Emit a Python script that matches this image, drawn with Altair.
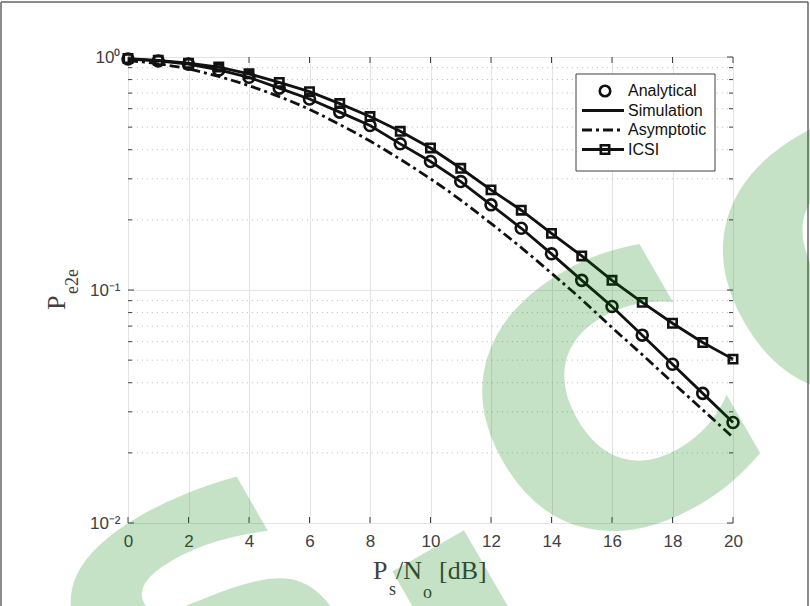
import altair as alt
import pandas as pd

# ---------------- data ----------------
snr_db = list(range(21))
analytical = [0.98, 0.962, 0.932, 0.880, 0.818, 0.735, 0.660, 0.580, 0.508, 0.424, 0.356,
              0.292, 0.232, 0.184, 0.143, 0.110, 0.085, 0.064, 0.048, 0.036, 0.027]
simulation = [0.98, 0.962, 0.932, 0.880, 0.818, 0.735, 0.660, 0.580, 0.508, 0.424, 0.356,
              0.292, 0.232, 0.184, 0.143, 0.110, 0.085, 0.064, 0.048, 0.036, 0.027]
asymptotic = [0.965, 0.935, 0.888, 0.825, 0.753, 0.676, 0.596, 0.513, 0.436, 0.364, 0.300,
              0.243, 0.193, 0.152, 0.118, 0.091, 0.069, 0.0528, 0.0401, 0.0306, 0.0233]
icsi = [0.985, 0.968, 0.940, 0.905, 0.847, 0.778, 0.710, 0.631, 0.555, 0.480, 0.407,
        0.333, 0.269, 0.220, 0.175, 0.140, 0.110, 0.0885, 0.072, 0.0595, 0.0505]

x_ticks = [0, 2, 4, 6, 8, 10, 12, 14, 16, 18, 20]
y_major = [0.01, 0.1, 1.0]
y_minor = [0.02, 0.03, 0.04, 0.05, 0.06, 0.07, 0.08, 0.09,
           0.2, 0.3, 0.4, 0.5, 0.6, 0.7, 0.8, 0.9]
legend_labels = ["Analytical", "Simulation", "Asymptotic", "ICSI"]
watermark = "s.com"

W, H = 605, 466
AX = "#404040"
LINE = "#111111"

x_enc = alt.X("x:Q",
              scale=alt.Scale(domain=[0, 20], nice=False, zero=False),
              axis=alt.Axis(values=x_ticks, grid=True, gridColor="#e4e4e4", gridWidth=1,
                            domain=False, ticks=False, labelPadding=10,
                            labelFont="Liberation Sans", labelFontSize=17,
                            labelColor=AX, title=None, labelFlush=False))
y_enc = alt.Y("y:Q",
              scale=alt.Scale(type="log", domain=[0.01, 1], nice=False),
              axis=alt.Axis(values=y_major, grid=True, gridColor="#e4e4e4", gridWidth=1,
                            domain=False, ticks=False, labelPadding=8,
                            labelFont="Liberation Sans", labelFontSize=17,
                            labelColor=AX, title=None,
                            labelExpr="datum.value >= 0.5 ? '10\u2070' : (datum.value >= 0.05 ? '10\u207b\u00b9' : '10\u207b\u00b2')"))

df = lambda xs, ys: pd.DataFrame({"x": xs, "y": ys})

minor_grid = alt.Chart(pd.DataFrame({"y": y_minor})).mark_rule(
    color="#c4c4c4", strokeDash=[1.2, 3.8], strokeWidth=1).encode(y=y_enc)

# inward ticks
y_all = pd.DataFrame({"y": y_major})
y_min = pd.DataFrame({"y": y_minor})
x_tk = pd.DataFrame({"x": x_ticks})
tick_style = dict(color=AX, strokeWidth=1)
ticks = [
    alt.Chart(y_all).mark_rule(**tick_style).encode(y=y_enc, x=alt.value(0), x2=alt.value(6)),
    alt.Chart(y_all).mark_rule(**tick_style).encode(y=y_enc, x=alt.value(W - 6), x2=alt.value(W)),
    alt.Chart(y_min).mark_rule(**tick_style).encode(y=y_enc, x=alt.value(0), x2=alt.value(4)),
    alt.Chart(y_min).mark_rule(**tick_style).encode(y=y_enc, x=alt.value(W - 4), x2=alt.value(W)),
    alt.Chart(x_tk).mark_rule(**tick_style).encode(x=x_enc, y=alt.value(0), y2=alt.value(6)),
    alt.Chart(x_tk).mark_rule(**tick_style).encode(x=x_enc, y=alt.value(H - 6), y2=alt.value(H)),
]

asym_line = alt.Chart(df(snr_db, asymptotic)).mark_line(
    color=LINE, strokeWidth=2.8, strokeDash=[10, 4, 3, 4], interpolate="monotone"
).encode(x=x_enc, y=y_enc)
sim_line = alt.Chart(df(snr_db, simulation)).mark_line(
    color=LINE, strokeWidth=2.8).encode(x=x_enc, y=y_enc)
icsi_line = alt.Chart(df(snr_db, icsi)).mark_line(
    color=LINE, strokeWidth=2.8).encode(x=x_enc, y=y_enc)
icsi_pts = alt.Chart(df(snr_db, icsi)).mark_point(
    shape="square", size=70, filled=False, color=LINE, strokeWidth=2.6, opacity=1
).encode(x=x_enc, y=y_enc)
ana_pts = alt.Chart(df(snr_db, analytical)).mark_point(
    shape="circle", size=120, filled=False, color=LINE, strokeWidth=2.6, opacity=1
).encode(x=x_enc, y=y_enc)

# ---------------- legend (manual) ----------------
one = pd.DataFrame({"a": [0]})
lx0, lx1, ly0, ly1 = 448, 587, 17, 114
rows = [34, 53.5, 73, 92.5]
leg = [
    alt.Chart(one).mark_rect(fill="white", stroke=AX, strokeWidth=1).encode(
        x=alt.value(lx0), x2=alt.value(lx1), y=alt.value(ly0), y2=alt.value(ly1)),
    alt.Chart(one).mark_point(shape="circle", size=110, filled=False, color=LINE,
                              strokeWidth=2.6, opacity=1).encode(
        x=alt.value(477), y=alt.value(rows[0])),
    alt.Chart(one).mark_rule(color=LINE, strokeWidth=2.8).encode(
        x=alt.value(454), x2=alt.value(496), y=alt.value(rows[1])),
    alt.Chart(one).mark_rule(color=LINE, strokeWidth=2.8, strokeDash=[10, 4, 3, 4]).encode(
        x=alt.value(454), x2=alt.value(496), y=alt.value(rows[2])),
    alt.Chart(one).mark_rule(color=LINE, strokeWidth=2.8).encode(
        x=alt.value(454), x2=alt.value(496), y=alt.value(rows[3])),
    alt.Chart(one).mark_point(shape="square", size=70, filled=False, color=LINE,
                              strokeWidth=2.6, opacity=1).encode(
        x=alt.value(477), y=alt.value(rows[3])),
]
for i, lab in enumerate(legend_labels):
    leg.append(alt.Chart(pd.DataFrame({"t": [lab]})).mark_text(
        align="left", baseline="middle", font="Liberation Sans", fontSize=16, color=LINE
    ).encode(text="t:N", x=alt.value(500), y=alt.value(rows[i])))

# ---------------- axis titles (serif, with subscripts) ----------------
def txt(s, x, y, size, angle=0, align="left"):
    return alt.Chart(pd.DataFrame({"t": [s]})).mark_text(
        align=align, baseline="alphabetic", font="Liberation Serif", fontSize=size,
        color=AX, angle=angle).encode(text="t:N", x=alt.value(x), y=alt.value(y))

xt0 = 245
titles = [
    txt("P", xt0, 56 + H, 26),
    txt("s", xt0 + 16, 72 + H, 18),
    txt("/N", xt0 + 23, 56 + H, 26),
    txt("o", xt0 + 50, 75 + H, 18),
    txt("[dB]", xt0 + 66, 56 + H, 26),
    txt("P", -63, 253, 26, angle=270),
    txt("e2e", -50, 237, 18, angle=270),
]

# ---------------- outer frame ----------------
frame = [
    alt.Chart(one).mark_rule(color="#666666", strokeWidth=1.5).encode(
        x=alt.value(-127), x2=alt.value(680), y=alt.value(-55)),
    alt.Chart(one).mark_rule(color="#666666", strokeWidth=1.5).encode(
        x=alt.value(-127), y=alt.value(-55), y2=alt.value(H + 83)),
    alt.Chart(one).mark_rule(color="#666666", strokeWidth=1.5).encode(
        x=alt.value(680), y=alt.value(-55), y2=alt.value(H + 83)),
]

# ---------------- watermark ----------------
wm = alt.Chart(pd.DataFrame({"t": [watermark]})).mark_text(
    align="center", baseline="alphabetic", font="DejaVu Sans", fontWeight="bold",
    fontSize=470, angle=330, color="#008000", opacity=0.22
).encode(text="t:N", x=alt.value(696), y=alt.value(368))

chart = alt.layer(
    minor_grid, *ticks, asym_line, sim_line, icsi_line, icsi_pts, ana_pts,
    *leg, *titles, *frame, wm
).properties(
    width=W, height=H,
    autosize=alt.AutoSizeParams(type="none"),
    padding={"left": 128, "top": 57, "right": 77, "bottom": 83},
).configure_view(stroke=AX, strokeWidth=1).configure(background="white")

chart.save("out.html", embed_options={"renderer": "svg", "actions": False})
